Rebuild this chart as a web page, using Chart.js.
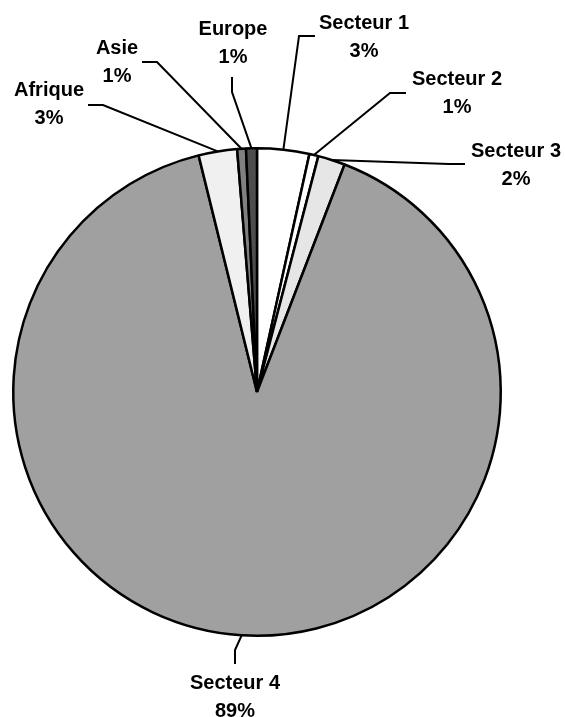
<!DOCTYPE html>
<html lang="fr">
<head>
<meta charset="utf-8">
<title>Répartition</title>
<script src="https://cdn.jsdelivr.net/npm/chart.js@4.4.1/dist/chart.umd.min.js"></script>
<style>
    body { margin: 0; background: #ffffff; }
    #conteneur { width: 565px; height: 717px; }
</style>
</head>
<body>
<div id="conteneur"><canvas id="meuGrafico" width="565" height="717"></canvas></div>
<script>
// données (parts en %)
const categories = ['Secteur 1', 'Secteur 2', 'Secteur 3', 'Secteur 4', 'Afrique', 'Asie', 'Europe'];
const valeurs = [3.45, 0.6, 1.8, 90.3, 2.55, 0.58, 0.72];
const pourcentages = ['3%', '1%', '2%', '89%', '3%', '1%', '1%'];
const couleurs = ['#ffffff', '#ffffff', '#e6e6e6', '#a0a0a0', '#f0f0f0', '#808080', '#4d4d4d'];

// placement des étiquettes, relatif au centre du camembert
const placements = [
    { coude: [42, -356], bout: [58, -356], texte: [107, -355] },
    { coude: [133, -299], bout: [149, -299], texte: [200, -299] },
    { coude: [192, -228], bout: [208, -228], texte: [259, -227] },
    { coude: [-22, 258], bout: [-22, 272], texte: [-22, 305] },
    { coude: [-154, -287], bout: [-169, -287], texte: [-208, -288] },
    { coude: [-100, -330], bout: [-115, -330], texte: [-140, -330] },
    { coude: [-25, -300], bout: [-25, -315], texte: [-24, -349] }
];

const etiquettes = {
    id: 'etiquettes',
    afterDatasetsDraw(chart) {
        const ctx = chart.ctx;
        const arcs = chart.getDatasetMeta(0).data;
        ctx.save();
        ctx.strokeStyle = '#000000';
        ctx.fillStyle = '#000000';
        ctx.lineWidth = 2;
        ctx.font = 'bold 20px "Liberation Sans", Arial, sans-serif';
        ctx.textAlign = 'center';
        ctx.textBaseline = 'middle';
        arcs.forEach(function (arc, i) {
            const p = arc.getProps(['x', 'y', 'startAngle', 'endAngle', 'outerRadius'], true);
            const milieu = (p.startAngle + p.endAngle) / 2;
            const pl = placements[i];
            ctx.beginPath();
            ctx.moveTo(p.x + Math.cos(milieu) * p.outerRadius, p.y + Math.sin(milieu) * p.outerRadius);
            ctx.lineTo(p.x + pl.coude[0], p.y + pl.coude[1]);
            ctx.lineTo(p.x + pl.bout[0], p.y + pl.bout[1]);
            ctx.stroke();
            ctx.fillText(categories[i], p.x + pl.texte[0], p.y + pl.texte[1] - 14);
            ctx.fillText(pourcentages[i], p.x + pl.texte[0], p.y + pl.texte[1] + 14);
        });
        ctx.restore();
    }
};

const dados = {
    labels: categories,
    datasets: [{
        data: valeurs,
        backgroundColor: couleurs,
        borderColor: '#000000',
        borderWidth: 2.5
    }]
};

var configuracao = {
    type: 'pie',
    data: dados,
    options: {
        responsive: false,
        animation: false,
        layout: { padding: { left: 12, right: 63, top: 147, bottom: 80 } },
        plugins: {
            legend: { display: false },
            tooltip: { enabled: false }
        }
    },
    plugins: [etiquettes]
};

try {
    var meuGrafico = new Chart(document.getElementById('meuGrafico'), configuracao);
} catch (e) {
    console.log(e);
}
</script>
</body>
</html>
